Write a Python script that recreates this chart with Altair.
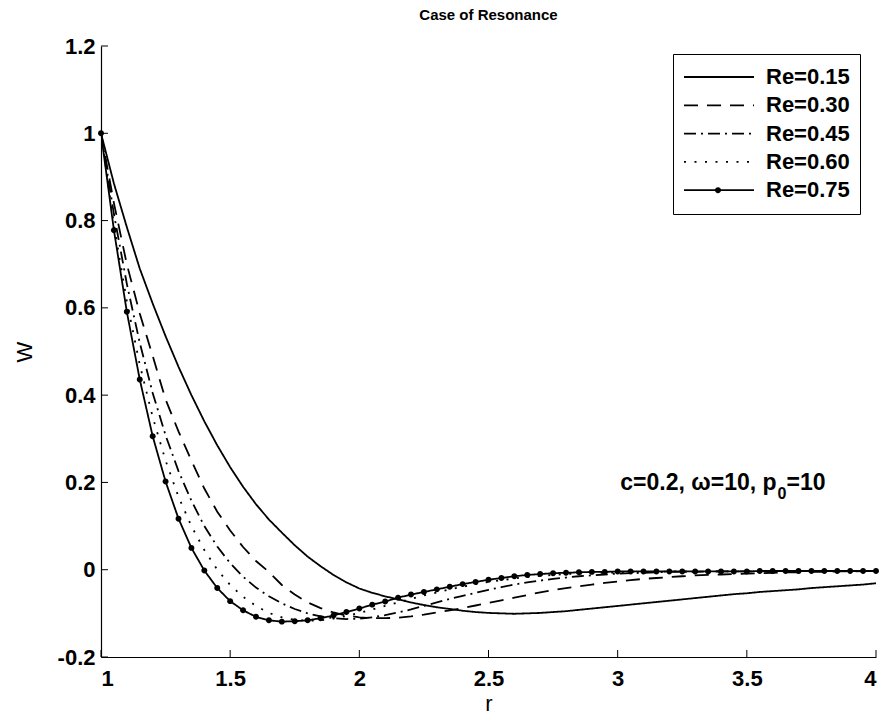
import altair as alt
import pandas as pd

# ---------------- data ----------------
r = [1.00, 1.05, 1.10, 1.15, 1.20, 1.25, 1.30, 1.35, 1.40, 1.45,
     1.50, 1.55, 1.60, 1.65, 1.70, 1.75, 1.80, 1.85, 1.90, 1.95,
     2.00, 2.05, 2.10, 2.15, 2.20, 2.25, 2.30, 2.35, 2.40, 2.45,
     2.50, 2.55, 2.60, 2.65, 2.70, 2.75, 2.80, 2.85, 2.90, 2.95,
     3.00, 3.05, 3.10, 3.15, 3.20, 3.25, 3.30, 3.35, 3.40, 3.45,
     3.50, 3.55, 3.60, 3.65, 3.70, 3.75, 3.80, 3.85, 3.90, 3.95, 4.00]

w_re015 = [1.000, 0.885, 0.785, 0.690, 0.610, 0.535, 0.465, 0.400, 0.340, 0.285,
           0.235, 0.190, 0.150, 0.115, 0.085, 0.056, 0.030, 0.008, -0.012, -0.029,
           -0.043, -0.053, -0.061, -0.068, -0.075, -0.081, -0.086, -0.090, -0.094, -0.097,
           -0.099, -0.100, -0.101, -0.100, -0.099, -0.097, -0.095, -0.092, -0.089, -0.086,
           -0.083, -0.080, -0.077, -0.074, -0.071, -0.068, -0.065, -0.062, -0.059, -0.056,
           -0.054, -0.051, -0.049, -0.047, -0.045, -0.042, -0.040, -0.038, -0.036, -0.034, -0.031]

w_re030 = [1.000, 0.840, 0.700, 0.587, 0.490, 0.390, 0.317, 0.250, 0.186, 0.133,
           0.090, 0.052, 0.020, -0.005, -0.035, -0.057, -0.075, -0.088, -0.098, -0.105,
           -0.109, -0.111, -0.111, -0.110, -0.107, -0.103, -0.098, -0.093, -0.088, -0.082,
           -0.076, -0.070, -0.064, -0.058, -0.052, -0.047, -0.042, -0.038, -0.034, -0.030,
           -0.027, -0.024, -0.021, -0.019, -0.017, -0.015, -0.013, -0.012, -0.011, -0.010,
           -0.009, -0.008, -0.007, -0.006, -0.006, -0.005, -0.005, -0.004, -0.004, -0.003, -0.003]

w_re045 = [1.000, 0.815, 0.655, 0.520, 0.405, 0.308, 0.226, 0.158, 0.100, 0.053,
           0.015, -0.016, -0.041, -0.061, -0.077, -0.090, -0.100, -0.107, -0.111, -0.113,
           -0.112, -0.109, -0.104, -0.098, -0.091, -0.083, -0.075, -0.067, -0.060, -0.053,
           -0.046, -0.040, -0.034, -0.029, -0.025, -0.021, -0.018, -0.015, -0.013, -0.011,
           -0.009, -0.008, -0.007, -0.006, -0.005, -0.005, -0.005, -0.004, -0.004, -0.004,
           -0.004, -0.004, -0.003, -0.003, -0.003, -0.003, -0.003, -0.003, -0.003, -0.003, -0.003]

w_re060 = [1.000, 0.790, 0.615, 0.470, 0.350, 0.250, 0.167, 0.100, 0.045, 0.000,
           -0.035, -0.062, -0.083, -0.099, -0.109, -0.115, -0.117, -0.116, -0.112, -0.106,
           -0.099, -0.091, -0.083, -0.075, -0.067, -0.059, -0.052, -0.045, -0.039, -0.033,
           -0.028, -0.024, -0.020, -0.017, -0.014, -0.012, -0.010, -0.009, -0.008, -0.007,
           -0.006, -0.005, -0.005, -0.005, -0.004, -0.004, -0.004, -0.004, -0.004, -0.004,
           -0.003, -0.003, -0.003, -0.003, -0.003, -0.003, -0.003, -0.003, -0.003, -0.003, -0.003]

w_re075 = [1.000, 0.778, 0.591, 0.436, 0.306, 0.202, 0.117, 0.050, -0.002, -0.042,
           -0.072, -0.093, -0.108, -0.116, -0.119, -0.118, -0.116, -0.111, -0.105, -0.097,
           -0.089, -0.080, -0.073, -0.064, -0.057, -0.051, -0.045, -0.039, -0.033, -0.028,
           -0.023, -0.019, -0.015, -0.012, -0.010, -0.008, -0.007, -0.006, -0.005, -0.005,
           -0.004, -0.004, -0.004, -0.004, -0.004, -0.004, -0.004, -0.004, -0.004, -0.004,
           -0.004, -0.003, -0.003, -0.003, -0.003, -0.003, -0.003, -0.003, -0.003, -0.003, -0.003]

labels = ["Re=0.15", "Re=0.30", "Re=0.45", "Re=0.60", "Re=0.75"]
series = [w_re015, w_re030, w_re045, w_re060, w_re075]

x_ticks = [1, 1.5, 2, 2.5, 3, 3.5, 4]
y_ticks = [-0.2, 0, 0.2, 0.4, 0.6, 0.8, 1, 1.2]

title_text = "Case of Resonance"
note_main = "c=0.2, \u03c9=10, p"
note_sub = "0"
note_tail = "=10"

# ---------------- tables ----------------
rows = []
for lab, ws in zip(labels, series):
    for ri, wi in zip(r, ws):
        rows.append({"r": ri, "W": wi, "case": lab})
df = pd.DataFrame(rows)
df_marks = pd.DataFrame({"r": r, "W": w_re075, "series": labels[4]})

FONT = "Liberation Sans"
W_PX, H_PX = 775, 611

xs = alt.Scale(domain=[1, 4], nice=False, zero=False)
ys = alt.Scale(domain=[-0.2, 1.2], nice=False, zero=False)

dash_range = [[1, 0], [14, 9], [12, 5, 2, 5], [2, 8.5], [1, 0]]
dot_path = "M-0.085,0A0.085,0.085,0,1,1,0.085,0A0.085,0.085,0,1,1,-0.085,0Z"
shape_range = ["M0,0", "M0,0", "M0,0", "M0,0", dot_path]

legend_common = dict(
    orient="none", legendX=572, legendY=8, direction="vertical",
    symbolSize=4900, clipHeight=26, rowPadding=2.3, padding=10,
    labelFont=FONT, labelFontSize=22, labelFontWeight="bold", labelOffset=11,
)

lines = alt.Chart(df).mark_line(strokeWidth=1.8, color="black", clip=True).encode(
    x=alt.X("r:Q", scale=xs,
            axis=alt.Axis(values=x_ticks, title="r", labelExpr="'' + datum.value")),
    y=alt.Y("W:Q", scale=ys,
            axis=alt.Axis(values=y_ticks, title="W", labelExpr="'' + datum.value")),
    strokeDash=alt.StrokeDash(
        "case:N",
        scale=alt.Scale(domain=labels, range=dash_range),
        legend=alt.Legend(title=None, symbolType="stroke", symbolStrokeWidth=1.8,
                          symbolStrokeColor="black", strokeColor="black",
                          fillColor="white", labelColor="black", **legend_common),
    ),
)

marks = alt.Chart(df_marks).mark_point(filled=True, color="black", opacity=1, size=4900).encode(
    x=alt.X("r:Q", scale=xs),
    y=alt.Y("W:Q", scale=ys),
    shape=alt.Shape(
        "series:N",
        scale=alt.Scale(domain=labels, range=shape_range),
        legend=alt.Legend(title=None, symbolFillColor="black", symbolStrokeWidth=0,
                          symbolOpacity=1, labelExpr="''", **legend_common),
    ),
)

xt = alt.Chart(pd.DataFrame({"r": x_ticks})).mark_rule(color="black", strokeWidth=1).encode(
    x=alt.X("r:Q", scale=xs), y=alt.value(H_PX), y2=alt.value(H_PX - 7)
)
yt = alt.Chart(pd.DataFrame({"W": y_ticks})).mark_rule(color="black", strokeWidth=1).encode(
    y=alt.Y("W:Q", scale=ys), x=alt.value(0), x2=alt.value(7)
)

anno_df = pd.DataFrame({"k": [0]})
note1 = alt.Chart(anno_df).mark_text(
    text=note_main, align="right", baseline="alphabetic", font=FONT,
    fontSize=23, fontWeight="bold", color="black"
).encode(x=alt.datum(3.615), y=alt.datum(0.1833))
note2 = alt.Chart(anno_df).mark_text(
    text=note_sub, align="left", baseline="alphabetic", font=FONT,
    fontSize=16, fontWeight="bold", color="black", dx=1, dy=9
).encode(x=alt.datum(3.615), y=alt.datum(0.1833))
note3 = alt.Chart(anno_df).mark_text(
    text=note_tail, align="left", baseline="alphabetic", font=FONT,
    fontSize=23, fontWeight="bold", color="black", dx=10
).encode(x=alt.datum(3.615), y=alt.datum(0.1833))

chart = alt.layer(lines, marks, xt, yt, note1, note2, note3).resolve_legend(
    shape="independent", strokeDash="independent"
).properties(
    width=W_PX, height=H_PX,
    title=alt.TitleParams(title_text, font=FONT, fontSize=15, fontWeight="bold",
                          color="black", anchor="middle", offset=12),
    autosize=alt.AutoSizeParams(type="none"),
    padding={"left": 101, "top": 46, "right": 12, "bottom": 65},
).configure_view(
    stroke=None
).configure_axis(
    domainColor="black", domainWidth=1.2, ticks=False, grid=False,
    labelFont=FONT, labelFontSize=22, labelFontWeight="bold", labelColor="black",
    titleFont=FONT, titleFontSize=22, titleFontWeight="normal", titleColor="black",
).configure_axisX(
    labelPadding=11, titlePadding=4
).configure_axisY(
    labelPadding=6, titlePadding=21
)

chart.save("out.html", embed_options={"renderer": "svg", "actions": False})
